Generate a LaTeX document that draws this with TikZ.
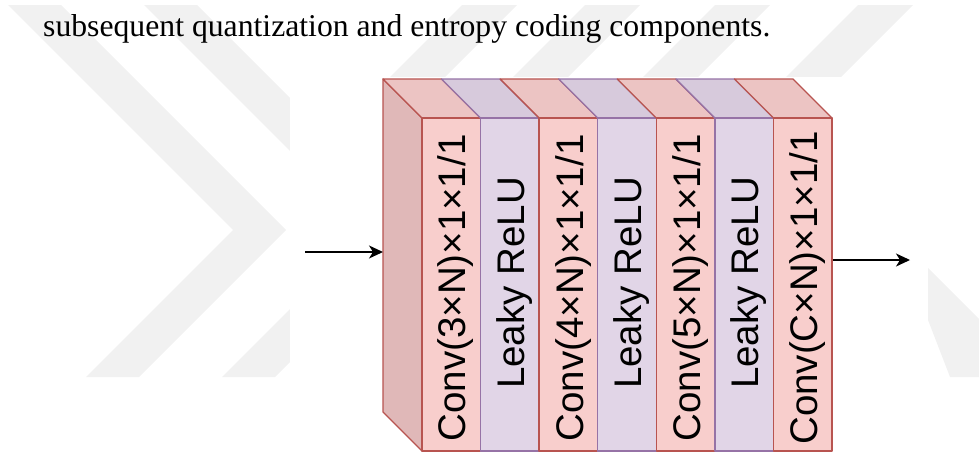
\documentclass[tikz,border=0pt]{standalone}
\usepackage{fontspec}
\setmainfont{Liberation Serif}
\newfontfamily\labelfont{Liberation Sans}
\usetikzlibrary{arrows.meta}

\definecolor{convfill}{HTML}{F8CECC}
\definecolor{convline}{HTML}{B85450}
\definecolor{convtop}{HTML}{ECC4C3}
\definecolor{convside}{HTML}{E0B8B8}
\definecolor{relufill}{HTML}{E1D5E7}
\definecolor{reluline}{HTML}{9673A6}
\definecolor{relutop}{HTML}{D7CADC}
\definecolor{wmark}{HTML}{F1F1F1}

\tikzset{
  convface/.style={fill=convfill, draw=convline, line width=1.3pt, line join=round},
  convlid/.style={fill=convtop, draw=convline, line width=1.3pt, line join=round},
  reluface/.style={fill=relufill, draw=reluline, line width=1.3pt, line join=round},
  relulid/.style={fill=relutop, draw=reluline, line width=1.3pt, line join=round},
  layertext/.style={rotate=90, anchor=base, inner sep=0pt, text=black,
    font=\labelfont\fontsize{38.5}{40}\selectfont},
  flow/.style={line width=1.5pt, -{Stealth[length=14pt, width=13pt, inset=4pt]}},
}

\begin{document}
\begin{tikzpicture}[x=1pt, y=-1pt]
\useasboundingbox (0,0) rectangle (979,455);

% faint page watermark
\fill[wmark] (8,5) -- (61,5) -- (286,230) -- (139,377) -- (86,377) -- (233,230) -- cycle;
\fill[wmark] (144,5) -- (197,5) -- (422,230) -- (275,377) -- (222,377) -- (369,230) -- cycle;
\fill[wmark] (462,5) -- (517,5) -- (445,77) -- (390,77) -- cycle;
\fill[wmark] (585,5) -- (640,5) -- (568,77) -- (513,77) -- cycle;
\fill[wmark] (715,5) -- (770,5) -- (698,77) -- (643,77) -- cycle;
\fill[wmark] (858,5) -- (913,5) -- (841,77) -- (786,77) -- cycle;
\fill[wmark] (928,268) -- (979,319) -- (979,377) -- (950,377) -- (928,320) -- cycle;

% white ground of the figure
\fill[white] (290,77) rectangle (928,455);

% running text line
\node[anchor=base west, inner sep=0pt, font=\fontsize{31.7}{36}\selectfont] (caption)
  at (43,36) {subsequent quantization and entropy coding components.};

% left side of the block
\filldraw[convline, fill=convside, line width=1.3pt, line join=round]
  (383,79) -- (422,118) -- (422,451) -- (383,412) -- cycle;

% layer slabs: top face and front face
\def\slabw{58.57}
\foreach \i/\kind in {0/conv,1/relu,2/conv,3/relu,4/conv,5/relu,6/conv}{
  \pgfmathsetmacro{\xa}{422+\i*\slabw}
  \pgfmathsetmacro{\xb}{422+(\i+1)*\slabw}
  \path[\kind lid] (\xa,118) -- (\xa-39,79) -- (\xb-39,79) -- (\xb,118) -- cycle;
  \path[\kind face] (\xa,118) rectangle (\xb,451);
}

% layer names
\node[layertext] (l1) at (465.5,288) {Conv(3×N)×1×1/1};
\node[layertext] (l2) at (524.5,283) {Leaky ReLU};
\node[layertext] (l3) at (583,288) {Conv(4×N)×1×1/1};
\node[layertext] (l4) at (641.5,283) {Leaky ReLU};
\node[layertext] (l5) at (700,288) {Conv(5×N)×1×1/1};
\node[layertext] (l6) at (758.5,283) {Leaky ReLU};
\node[layertext] (l7) at (817,288) {Conv(C×N)×1×1/1};

% input and output
\coordinate (src) at (305,252);
\coordinate (blockin) at (383,252);
\coordinate (blockout) at (833,260);
\coordinate (dst) at (910,260);
\draw[flow] (src) -- (blockin);
\draw[flow] (blockout) -- (dst);
\end{tikzpicture}
\end{document}
